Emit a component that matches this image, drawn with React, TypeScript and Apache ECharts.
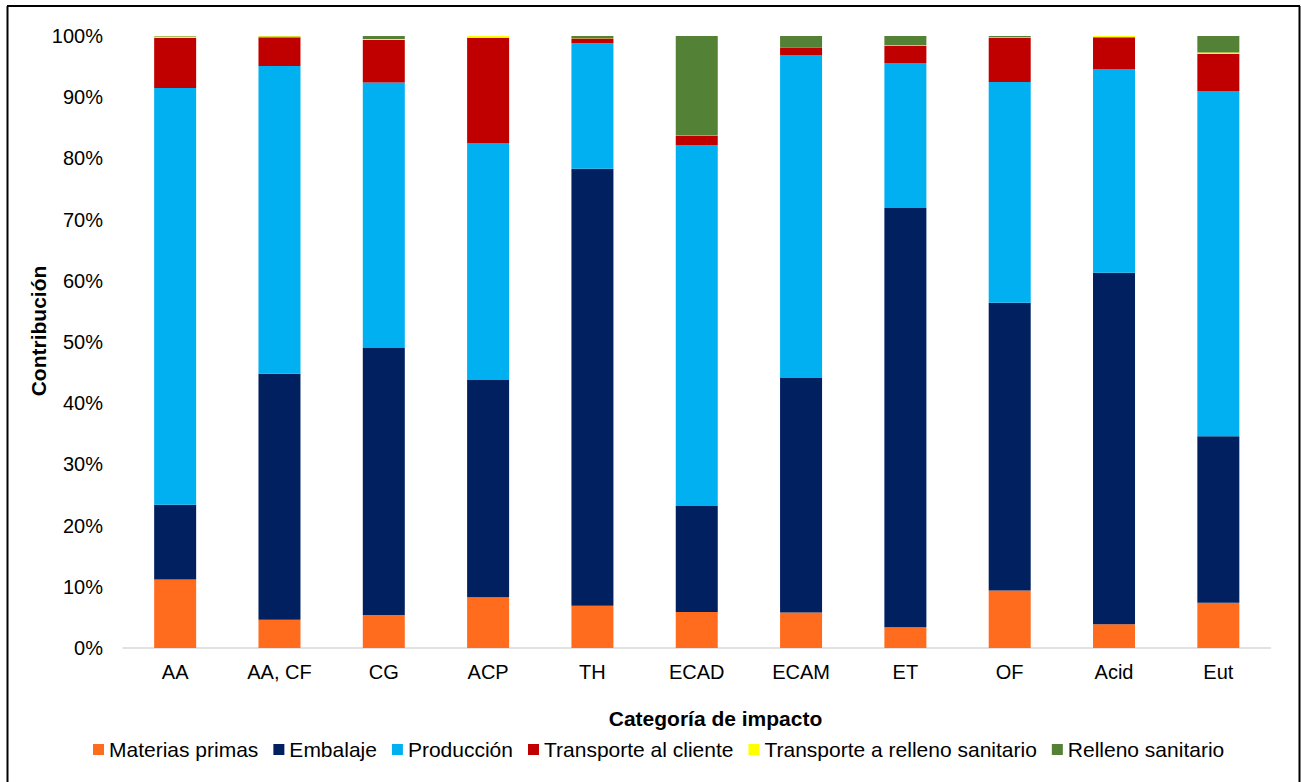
import React, { useEffect, useRef } from "react";
import * as echarts from "echarts";

// Impact categories along the x axis
const categories = ["AA", "AA, CF", "CG", "ACP", "TH", "ECAD", "ECAM", "ET", "OF", "Acid", "Eut"];

// Percentage contribution of each life-cycle stage per category
const materiasPrimas = [11.2, 4.6, 5.4, 8.3, 6.9, 5.9, 5.8, 3.4, 9.4, 3.9, 7.4];
const embalaje = [12.2, 40.2, 43.6, 35.5, 71.4, 17.3, 38.3, 68.5, 47.0, 57.4, 27.2];
const produccion = [68.1, 50.3, 43.4, 38.7, 20.5, 59.0, 52.8, 23.7, 36.1, 33.3, 56.4];
const transporteCliente = [8.2, 4.7, 7.0, 17.2, 0.8, 1.5, 1.2, 2.8, 7.2, 5.2, 6.1];
const transporteRelleno = [0.2, 0.15, 0.1, 0.3, 0.05, 0.05, 0.0, 0.1, 0.1, 0.2, 0.2];
const rellenoSanitario = [0.1, 0.05, 0.5, 0.0, 0.35, 16.25, 1.9, 1.5, 0.2, 0.0, 2.7];

const seriesNames = [
  "Materias primas",
  "Embalaje",
  "Producción",
  "Transporte al cliente",
  "Transporte a relleno sanitario",
  "Relleno sanitario",
];
const seriesData = [
  materiasPrimas,
  embalaje,
  produccion,
  transporteCliente,
  transporteRelleno,
  rellenoSanitario,
];
const seriesColors = ["#FF6C1E", "#002060", "#00B0F0", "#C00000", "#FFFF00", "#538135"];

// Y axis ticks
const yTicks = { min: 0, max: 100, interval: 10 };

const FONT = '"Liberation Sans", Arial, sans-serif';

export default function App() {
  const ref = useRef<HTMLDivElement>(null);

  useEffect(() => {
    if (!ref.current) return;
    const chart = echarts.init(ref.current, null, { renderer: "svg" });

    chart.setOption({
      animation: false,
      backgroundColor: "#ffffff",
      textStyle: { fontFamily: FONT },
      grid: { left: 123, right: 30.5, top: 36, bottom: 134 },
      xAxis: {
        type: "category",
        data: categories,
        axisLine: { show: true, lineStyle: { color: "#D9D9D9", width: 1.5 } },
        axisTick: { show: false },
        axisLabel: { color: "#000", fontSize: 20, fontFamily: FONT, margin: 14 },
      },
      yAxis: {
        type: "value",
        min: yTicks.min,
        max: yTicks.max,
        interval: yTicks.interval,
        axisLine: { show: false },
        axisTick: { show: false },
        splitLine: { show: false },
        axisLabel: {
          color: "#000",
          fontSize: 20,
          fontFamily: FONT,
          margin: 20,
          formatter: "{value}%",
        },
      },
      legend: {
        data: seriesNames,
        left: 88,
        top: 734,
        icon: "rect",
        itemWidth: 11,
        itemHeight: 11,
        itemGap: 15,
        textStyle: { color: "#000", fontSize: 21, fontFamily: FONT },
      },
      series: seriesNames.map((name, i) => ({
        name,
        type: "bar",
        stack: "total",
        barWidth: 42,
        data: seriesData[i],
        itemStyle: { color: seriesColors[i] },
        emphasis: { disabled: true },
      })),
      graphic: [
        // chart frame (top, left, right edges)
        { type: "line", shape: { x1: 7, y1: 6, x2: 1300, y2: 6 }, style: { stroke: "#000", lineWidth: 2 } },
        { type: "line", shape: { x1: 7.5, y1: 6, x2: 7.5, y2: 782 }, style: { stroke: "#000", lineWidth: 2 } },
        { type: "line", shape: { x1: 1299.5, y1: 6, x2: 1299.5, y2: 782 }, style: { stroke: "#000", lineWidth: 2 } },
        {
          type: "text",
          x: 715.5,
          y: 718,
          style: {
            text: "Categoría de impacto",
            fontSize: 21,
            fontWeight: "bold",
            fontFamily: FONT,
            fill: "#000",
            align: "center",
            verticalAlign: "middle",
          },
        },
        {
          type: "text",
          x: 38,
          y: 331,
          rotation: Math.PI / 2,
          style: {
            text: "Contribución",
            fontSize: 21,
            fontWeight: "bold",
            fontFamily: FONT,
            fill: "#000",
            align: "center",
            verticalAlign: "middle",
          },
        },
      ],
    });

    return () => chart.dispose();
  }, []);

  return (
    <div
      ref={ref}
      style={{ position: "absolute", left: 0, top: 0, width: 1301, height: 782 }}
    />
  );
}
